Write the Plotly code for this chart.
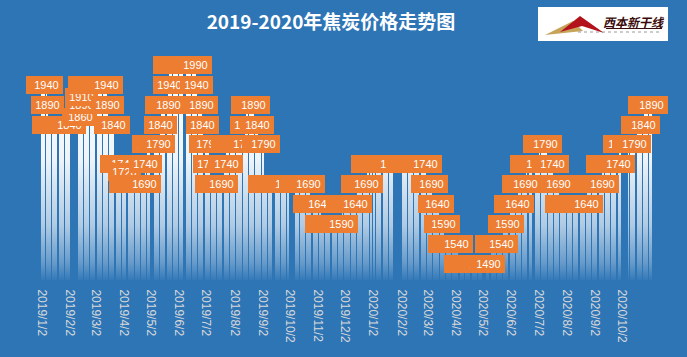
import base64
import pandas as pd
import plotly.graph_objects as go

# ---------------- data ----------------
seg_start = ["2019-01-02", "2019-01-08", "2019-01-09", "2019-02-11", "2019-02-14", "2019-02-15",
             "2019-02-18", "2019-03-15", "2019-03-18", "2019-03-25", "2019-04-03", "2019-04-04",
             "2019-04-26", "2019-04-29", "2019-05-13", "2019-05-14", "2019-05-22", "2019-05-23",
             "2019-06-21", "2019-06-24", "2019-06-28", "2019-07-01", "2019-07-05", "2019-07-08",
             "2019-07-22", "2019-07-25", "2019-08-15", "2019-08-16", "2019-08-26", "2019-08-28",
             "2019-09-04", "2019-10-24", "2019-11-06", "2019-11-29", "2019-12-16", "2019-12-27",
             "2020-03-02", "2020-03-09", "2020-03-16", "2020-03-20", "2020-04-07", "2020-05-11",
             "2020-05-25", "2020-06-01", "2020-06-10", "2020-06-19", "2020-07-03", "2020-07-13",
             "2020-07-20", "2020-07-27", "2020-08-25", "2020-09-11", "2020-09-29", "2020-10-19",
             "2020-10-27"]
seg_end = ["2019-01-07", "2019-01-08", "2019-02-01", "2019-02-13", "2019-02-14", "2019-02-15",
           "2019-03-14", "2019-03-15", "2019-03-22", "2019-04-02", "2019-04-03", "2019-04-25",
           "2019-04-26", "2019-05-10", "2019-05-13", "2019-05-21", "2019-05-22", "2019-06-20",
           "2019-06-21", "2019-06-27", "2019-06-28", "2019-07-04", "2019-07-05", "2019-07-19",
           "2019-07-24", "2019-08-14", "2019-08-15", "2019-08-23", "2019-08-27", "2019-09-03",
           "2019-10-23", "2019-11-05", "2019-11-28", "2019-12-13", "2019-12-26", "2020-02-28",
           "2020-03-06", "2020-03-13", "2020-03-19", "2020-04-03", "2020-05-08", "2020-05-22",
           "2020-05-29", "2020-06-09", "2020-06-18", "2020-07-02", "2020-07-10", "2020-07-17",
           "2020-07-24", "2020-08-24", "2020-09-10", "2020-09-28", "2020-10-16", "2020-10-26",
           "2020-11-03"]
seg_price = [1940, 1890, 1840, 1860, 1890, 1910,
             1940, 1890, 1840, 1740, 1720, 1690,
             1740, 1790, 1840, 1890, 1940, 1990,
             1940, 1890, 1840, 1790, 1740, 1690,
             1740, 1790, 1840, 1890, 1840, 1790,
             1690, 1640, 1590, 1640, 1690, 1740,
             1690, 1640, 1590, 1540, 1490, 1540,
             1590, 1640, 1690, 1740, 1790, 1740,
             1690, 1640, 1690, 1740, 1790, 1840,
             1890]
holidays = ["2019-02-04", "2019-02-05", "2019-02-06", "2019-02-07", "2019-02-08",
            "2019-04-05", "2019-05-01", "2019-05-02", "2019-05-03", "2019-06-07",
            "2019-09-13", "2019-10-01", "2019-10-02", "2019-10-03", "2019-10-04", "2019-10-07",
            "2020-01-01", "2020-01-24", "2020-01-27", "2020-01-28", "2020-01-29", "2020-01-30",
            "2020-01-31", "2020-04-06", "2020-05-01", "2020-05-04", "2020-05-05",
            "2020-06-25", "2020-06-26", "2020-10-01", "2020-10-02", "2020-10-05",
            "2020-10-06", "2020-10-07", "2020-10-08"]

tick_dates = ["2019-01-02", "2019-02-02", "2019-03-02", "2019-04-02", "2019-05-02", "2019-06-02",
              "2019-07-02", "2019-08-02", "2019-09-02", "2019-10-02", "2019-11-02", "2019-12-02",
              "2020-01-02", "2020-02-02", "2020-03-02", "2020-04-02", "2020-05-02", "2020-06-02",
              "2020-07-02", "2020-08-02", "2020-09-02", "2020-10-02"]
tick_labels = ["2019/1/2", "2019/2/2", "2019/3/2", "2019/4/2", "2019/5/2", "2019/6/2",
               "2019/7/2", "2019/8/2", "2019/9/2", "2019/10/2", "2019/11/2", "2019/12/2",
               "2020/1/2", "2020/2/2", "2020/3/2", "2020/4/2", "2020/5/2", "2020/6/2",
               "2020/7/2", "2020/8/2", "2020/9/2", "2020/10/2"]

title_text = "2019-2020年焦炭价格走势图"

# ---------------- expand the price segments to trading days ----------------
hol = set(pd.to_datetime(holidays))
dates, prices = [], []
for s, e, p in zip(seg_start, seg_end, seg_price):
    for d in pd.bdate_range(s, e):
        if d not in hol:
            dates.append(d)
            prices.append(p)

# ---------------- style / layout ----------------
BG = "#2E75B6"
ORANGE = "#ED7D31"
W_PX, H_PX = 687, 357
ML, MR, MT, MB = 30, 20, 60, 77
PLOT_W = W_PX - ML - MR
PLOT_H = H_PX - MT - MB
PX_PER_DAY = 0.9077
FIRST_X_PX = 42
day_ms = 86400000
t0 = pd.Timestamp("2019-01-02")
x_start = t0 - pd.Timedelta(days=(FIRST_X_PX - ML) / PX_PER_DAY)
x_end = x_start + pd.Timedelta(days=PLOT_W / PX_PER_DAY)
y_range = [1449, 1449 + PLOT_H / 0.3977]

fig = go.Figure()
fig.add_trace(go.Bar(
    x=dates, y=prices,
    width=0.55 * day_ms,
    marker=dict(color="#FFFFFF", line=dict(width=0)),
    hoverinfo="x+y",
))

annotations = []
for d, p in zip(dates, prices):
    annotations.append(dict(
        x=d, y=p, xref="x", yref="y", text=str(p), showarrow=False,
        xanchor="center", yanchor="middle",
        bgcolor=ORANGE, width=31, height=16, borderpad=1, borderwidth=0,
        font=dict(family="Liberation Sans, Arial", size=11, color="#FFFFFF"),
    ))


def px_to_paper_x(px):
    return (px - ML) / PLOT_W


def px_to_paper_y(py):
    return 1 - (py - MT) / PLOT_H


# logo text
annotations.append(dict(
    x=px_to_paper_x(634), y=px_to_paper_y(21), xref="paper", yref="paper",
    text="<b><i>西本新干线</i></b>", showarrow=False, xanchor="center", yanchor="middle",
    font=dict(family="Noto Sans CJK SC", size=12, color="#3A0A0A"),
))

# gradient overlay for bars
svg = ('<svg xmlns="http://www.w3.org/2000/svg" width="10" height="100" viewBox="0 0 10 100" '
       'preserveAspectRatio="none"><defs><linearGradient id="g" x1="0" y1="0" x2="0" y2="1">'
       '<stop offset="0" stop-color="#2E75B6" stop-opacity="0"/>'
       '<stop offset="0.45" stop-color="#2E75B6" stop-opacity="0.08"/>'
       '<stop offset="0.75" stop-color="#2E75B6" stop-opacity="0.38"/>'
       '<stop offset="0.92" stop-color="#2E75B6" stop-opacity="0.72"/>'
       '<stop offset="1" stop-color="#2E75B6" stop-opacity="0.97"/>'
       '</linearGradient></defs><rect width="10" height="100" fill="url(#g)"/></svg>')
svg_uri = "data:image/svg+xml;base64," + base64.b64encode(svg.encode()).decode()

shapes = [
    # logo box
    dict(type="rect", xref="paper", yref="paper",
         x0=px_to_paper_x(538), x1=px_to_paper_x(668), y0=px_to_paper_y(41), y1=px_to_paper_y(7),
         fillcolor="#FFFFFF", line=dict(width=0), layer="above"),
    # logo mountain (gold)
    dict(type="path", xref="paper", yref="paper",
         path="M {} {} L {} {} L {} {} Z".format(
             px_to_paper_x(545), px_to_paper_y(35), px_to_paper_x(573), px_to_paper_y(21),
             px_to_paper_x(583), px_to_paper_y(31)),
         fillcolor="#C8A45A", line=dict(width=0), layer="above"),
    # logo mountain (red)
    dict(type="path", xref="paper", yref="paper",
         path="M {} {} L {} {} L {} {} L {} {} Z".format(
             px_to_paper_x(560), px_to_paper_y(32), px_to_paper_x(580), px_to_paper_y(16),
             px_to_paper_x(604), px_to_paper_y(33), px_to_paper_x(582), px_to_paper_y(26)),
         fillcolor="#B3121B", line=dict(width=0), layer="above"),
    # logo underline
    dict(type="line", xref="paper", yref="paper",
         x0=px_to_paper_x(606), x1=px_to_paper_x(662), y0=px_to_paper_y(28.5), y1=px_to_paper_y(28.5),
         line=dict(color="#3A0A0A", width=1), layer="above"),
    dict(type="line", xref="paper", yref="paper",
         x0=px_to_paper_x(578), x1=px_to_paper_x(660), y0=px_to_paper_y(32), y1=px_to_paper_y(32),
         line=dict(color="#9A9A9A", width=1, dash="dot"), layer="above"),
]

fig.update_layout(
    width=W_PX, height=H_PX,
    margin=dict(l=ML, r=MR, t=MT, b=MB),
    paper_bgcolor=BG, plot_bgcolor=BG,
    showlegend=False,
    bargap=0,
    title=dict(text="<b>" + title_text + "</b>", x=331 / W_PX, xanchor="center",
               y=1 - 22 / H_PX, yanchor="middle",
               font=dict(family="Noto Sans CJK SC", size=19, color="#FFFFFF")),
    xaxis=dict(type="date", range=[x_start, x_end], tickmode="array",
               tickvals=tick_dates, ticktext=tick_labels, tickangle=90,
               tickfont=dict(family="Liberation Sans, Arial", size=12, color="#D9D9D9"),
               showgrid=False, zeroline=False, showline=False,
               ticks="outside", ticklen=6, tickcolor="rgba(0,0,0,0)"),
    yaxis=dict(range=y_range, visible=False, showgrid=False, zeroline=False),
    annotations=annotations,
    shapes=shapes,
    images=[dict(source=svg_uri, xref="paper", yref="paper", x=0, y=1, sizex=1, sizey=1,
                 xanchor="left", yanchor="top", sizing="stretch", layer="above")],
)

fig.write_html("out.html", config={"displayModeBar": False},
               post_script="document.body.style.margin='0';document.body.style.background='" + BG + "';")
